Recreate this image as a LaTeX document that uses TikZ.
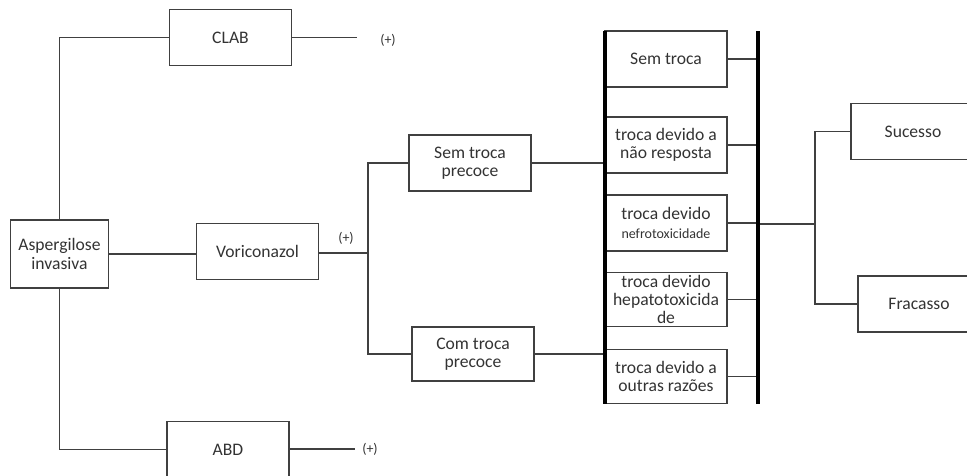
\documentclass[tikz,border=0pt]{standalone}
\usepackage{fontspec}
\setmainfont{Carlito}
\usepackage{tikz}
\usetikzlibrary{positioning}

\begin{document}
\begin{tikzpicture}[x=0.75pt,y=-0.75pt,
  box/.style={draw=black!75,line width=0.8pt,minimum width=91.5pt,minimum height=41.5pt,align=center,inner sep=1pt,text=black!80,font=\fontsize{13.2}{13.8}\selectfont},
  wire/.style={draw=black!75,line width=0.8pt},
  bar/.style={draw=black,line width=2.3pt},
  plus/.style={text=black!80,font=\fontsize{10.5}{12}\selectfont,inner sep=1pt}]
\clip (0,0) rectangle (967,475);
% main branches
\node[box,minimum width=74pt,minimum height=51pt] (asp) at (59.5,254) {Aspergilose\\invasiva};
\node[box] (clab) at (230.5,37.5) {CLAB};
\node[box] (vori) at (257.5,251.5) {Voriconazol};
\node[box] (abd) at (228,449.5) {ABD};
\node[plus] (clab_p) at (388,40) {(+)};
\node[plus] (vori_p) at (346,238) {(+)};
\node[plus] (abd_p) at (370,449) {(+)};
\coordinate (clab_e) at (357,37.5);
\coordinate (abd_e) at (355,449);
\coordinate (split) at (368,253);
% early switch
\node[box,minimum height=42pt] (semp) at (470,163) {Sem troca\\precoce};
\node[box,minimum height=40.5pt] (comp) at (473,354) {Com troca\\precoce};
% reasons
\node[box,minimum height=42pt] (st) at (666,59) {Sem troca};
\node[box,minimum height=42pt] (nr) at (666,145) {troca devido a\\não resposta};
\node[box,minimum height=42pt] (nef) at (666,223) {troca devido\\{\fontsize{10.5}{12}\selectfont nefrotoxicidade}};
\node[box,minimum height=41pt] (hep) at (666,299.5) {troca devido\\hepatotoxicida\\de};
\node[box,minimum height=41pt] (outr) at (666,376.5) {troca devido a\\outras razões};
\coordinate (barL_t) at (605,31);
\coordinate (barL_b) at (605,404);
\coordinate (barR_t) at (758,31);
\coordinate (barR_b) at (758,404);
\coordinate (fork) at (815,224);
% outcomes
\node[box,minimum width=93pt] (suc) at (913,131.5) {Sucesso};
\node[box,minimum height=42pt] (fra) at (919,304) {Fracasso};

\draw[wire] (asp.north) |- (clab.west);
\draw[wire] (clab.east) -- (clab_e);
\draw[wire] (asp.east) -- (asp.east -| vori.west);
\draw[wire] (vori.east |- split) -- (split);
\draw[wire] (asp.south) |- (abd.west);
\draw[wire] (abd.east |- abd_e) -- (abd_e);
\draw[wire] (split) |- (semp.west);
\draw[wire] (split) |- (comp.west);
\draw[wire] (semp.east) -- (semp.east -| barL_t);
\draw[wire] (comp.east) -- (comp.east -| barL_t);
\foreach \r in {st,nr,nef,hep,outr}
  \draw[wire] (\r.east) -- (\r.east -| barR_t);
\draw[wire] (fork -| barR_t) -- (fork);
\draw[wire] (fork) |- (suc.west);
\draw[wire] (fork) |- (fra.west);
\draw[bar] (barL_t) -- (barL_b);
\draw[bar] (barR_t) -- (barR_b);
\end{tikzpicture}
\end{document}
